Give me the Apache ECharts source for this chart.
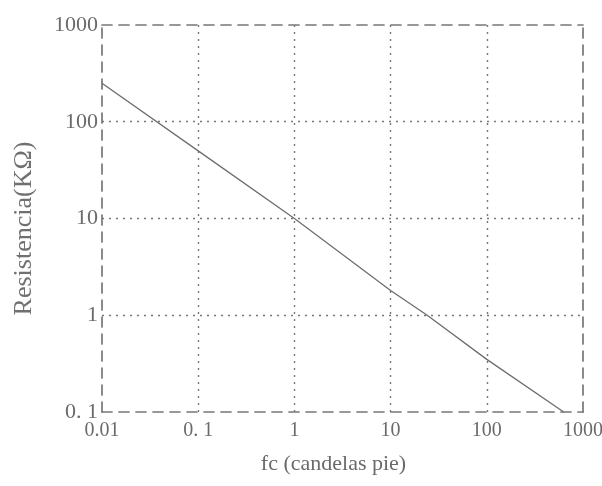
<!DOCTYPE html>
<html>
<head>
<meta charset="utf-8">
<script src="https://cdn.jsdelivr.net/npm/echarts@6/dist/echarts.min.js"></script>
<style>html,body{margin:0;padding:0;background:#fff}#c{width:602px;height:486px}</style>
</head>
<body>
<div id="c"></div>
<script>
const fc = [0.01, 0.1, 1, 10, 24, 100, 630];
const resistencia = [250, 50, 10, 1.8, 1, 0.35, 0.1];
const xTickLabels = {0.01: '0.01', 0.1: '0. 1', 1: '1', 10: '10', 100: '100', 1000: '1000'};
const yTickLabels = {0.1: '0. 1', 1: '1', 10: '10', 100: '100', 1000: '1000'};
const xTitle = 'fc (candelas pie)';
const yTitle = 'Resistencia(KΩ)';

const txt = '#6a6a6a';
const frame = '#777777';
const font = 'Liberation Serif';

const chart = echarts.init(document.getElementById('c'));
const fmtX = v => { const k = Number(v.toPrecision(3)); return xTickLabels[k] !== undefined ? xTickLabels[k] : ''; };
const fmtY = v => { const k = Number(v.toPrecision(3)); return yTickLabels[k] !== undefined ? yTickLabels[k] : ''; };
const dashedLine = {show: true, lineStyle: {color: frame, width: 1.7, type: [10, 7]}};
const dotted = {show: true, showMinLine: false, showMaxLine: false, lineStyle: {color: frame, width: 1.4, type: [2, 5]}};

chart.setOption({
  animation: false,
  backgroundColor: '#fff',
  grid: {left: 102, right: 19, top: 25, bottom: 74, containLabel: false, outerBoundsMode: 'none'},
  xAxis: [{
    type: 'log', logBase: 10, min: 0.01, max: 1000,
    name: xTitle, nameLocation: 'middle', nameGap: 41,
    nameTextStyle: {color: txt, fontFamily: font, fontSize: 22, padding: [0, 18, 0, 0]},
    axisLine: dashedLine, axisTick: {show: false},
    axisLabel: {color: txt, fontFamily: font, fontSize: 20, margin: 9, formatter: fmtX, showMinLabel: true, showMaxLabel: true},
    splitLine: dotted, minorTick: {show: false}
  }, {
    type: 'log', logBase: 10, min: 0.01, max: 1000, position: 'top',
    axisLine: dashedLine, axisTick: {show: false}, axisLabel: {show: false}, splitLine: {show: false}
  }],
  yAxis: [{
    type: 'log', logBase: 10, min: 0.1, max: 1000,
    name: yTitle, nameLocation: 'middle', nameGap: 65, nameRotate: 90,
    nameTextStyle: {color: '#707070', fontFamily: font, fontSize: 26, padding: [0, 20, 0, 0]},
    axisLine: dashedLine, axisTick: {show: false},
    axisLabel: {color: txt, fontFamily: font, fontSize: 22, margin: 4, formatter: fmtY, showMinLabel: true, showMaxLabel: true},
    splitLine: dotted
  }, {
    type: 'log', logBase: 10, min: 0.1, max: 1000, position: 'right',
    axisLine: dashedLine, axisTick: {show: false}, axisLabel: {show: false}, splitLine: {show: false}
  }],
  series: [{
    type: 'line',
    data: fc.map((x, i) => [x, resistencia[i]]),
    showSymbol: false, symbol: 'none',
    lineStyle: {color: '#6e6e6e', width: 1.3},
    z: 5
  }]
});
</script>
</body>
</html>
